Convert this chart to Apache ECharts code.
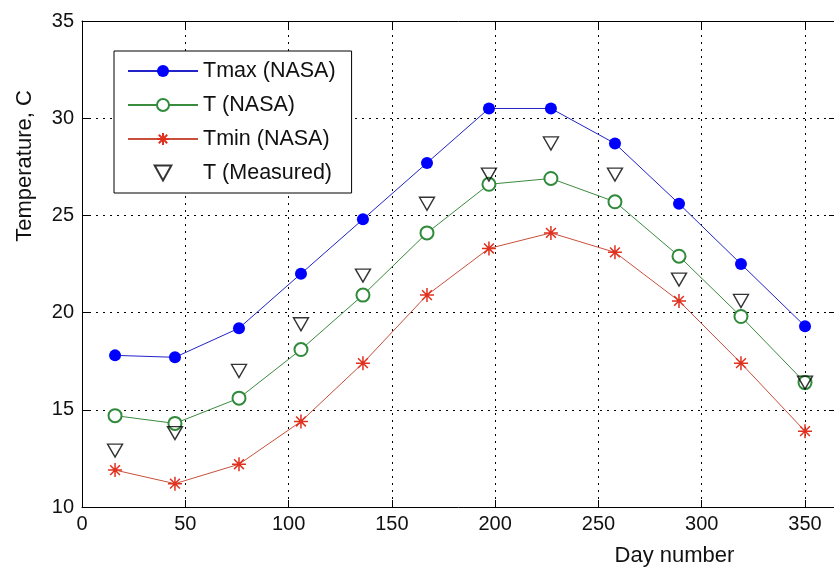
<!DOCTYPE html>
<html>
<head>
<meta charset="utf-8">
<title>Temperature by day number</title>
<script src="https://cdn.jsdelivr.net/npm/echarts@6/dist/echarts.min.js"></script>
<style>
  html, body { margin: 0; padding: 0; background: #fff; }
  #chart { width: 834px; height: 569px; }
</style>
</head>
<body>
<div id="chart"></div>
<script>
// Day of year for each monthly value
const days = [16, 45, 76, 106, 136, 167, 197, 227, 258, 289, 319, 350];
// NASA monthly temperatures, deg C
const tMax = [17.8, 17.7, 19.2, 22.0, 24.8, 27.7, 30.5, 30.5, 28.7, 25.6, 22.5, 19.3];
const tAvg = [14.7, 14.3, 15.6, 18.1, 20.9, 24.1, 26.6, 26.9, 25.7, 22.9, 19.8, 16.4];
const tMin = [11.9, 11.2, 12.2, 14.4, 17.4, 20.9, 23.3, 24.1, 23.1, 20.6, 17.4, 13.9];
// Measured monthly mean temperature, deg C
const tMeas = [12.9, 13.8, 17.0, 19.4, 21.9, 25.6, 27.1, 28.7, 27.1, 21.7, 20.6, 16.4];
// Axis ticks
const xTicks = [0, 50, 100, 150, 200, 250, 300, 350];
const yTicks = [10, 15, 20, 25, 30, 35];

const pairs = (xs, ys) => xs.map((x, i) => [x, ys[i]]);

const FONT = "'Liberation Sans', Arial, Helvetica, sans-serif";
const INK = '#111';
const ASTERISK = 'path://M5,0L5,10M0,5L10,5M1.5,1.5L8.5,8.5M1.5,8.5L8.5,1.5';
const TRI_DOWN = 'path://M0,0L10,0L5,9Z';

const xMin = xTicks[0], xMax = 365, xStep = xTicks[1] - xTicks[0];
const yMin = yTicks[0], yMax = yTicks[yTicks.length - 1], yStep = yTicks[1] - yTicks[0];

const dotted = { show: true, lineStyle: { color: '#000', width: 1, type: [2, 5] } };
const boxLine = { show: true, onZero: false, lineStyle: { color: '#000', width: 1 } };
const inTick = { show: true, inside: true, length: 7, lineStyle: { color: '#000', width: 1 } };

const chart = echarts.init(document.getElementById('chart'), null, { renderer: 'canvas' });

chart.setOption({
  animation: false,
  backgroundColor: '#fff',
  textStyle: { fontFamily: FONT },
  grid: { left: 82, top: 21, width: 754, height: 486, containLabel: false, outerBoundsMode: 'none' },
  legend: {
    orient: 'vertical',
    left: 114,
    top: 51,
    padding: [9, 16, 9, 13],
    itemWidth: 70,
    itemHeight: 15,
    itemGap: 12,
    backgroundColor: '#fff',
    borderColor: '#000',
    borderWidth: 1,
    borderRadius: 0,
    textStyle: { fontSize: 21.5, color: INK, fontFamily: FONT },
    data: ['Tmax (NASA)', 'T (NASA)', 'Tmin (NASA)', 'T (Measured)']
  },
  xAxis: [
    {
      type: 'value', position: 'bottom',
      min: xMin, max: xMax, interval: xStep,
      axisLine: boxLine, axisTick: inTick,
      axisLabel: {
        fontSize: 20, color: INK, margin: 7, fontFamily: FONT,
        formatter: v => (xTicks.indexOf(v) >= 0 ? String(v) : '')
      },
      splitLine: dotted,
      name: 'Day number',
      nameLocation: 'middle',
      nameGap: 38,
      nameTextStyle: { fontSize: 22, color: INK, fontFamily: FONT, padding: [0, 0, 0, 431] }
    },
    {
      type: 'value', position: 'top',
      min: xMin, max: xMax, interval: xStep,
      axisLine: boxLine, axisTick: inTick,
      axisLabel: { show: false }, splitLine: { show: false }
    }
  ],
  yAxis: [
    {
      type: 'value', position: 'left',
      min: yMin, max: yMax, interval: yStep,
      axisLine: boxLine, axisTick: inTick,
      axisLabel: { fontSize: 20, color: INK, margin: 8, fontFamily: FONT },
      splitLine: dotted,
      name: 'Temperature, C',
      nameLocation: 'middle',
      nameGap: 46,
      nameTextStyle: { fontSize: 22, color: INK, fontFamily: FONT, padding: [0, 0, 0, 196] }
    },
    {
      type: 'value', position: 'right',
      min: yMin, max: yMax, interval: yStep,
      axisLine: boxLine, axisTick: inTick,
      axisLabel: { show: false }, splitLine: { show: false }
    }
  ],
  series: [
    {
      name: 'Tmax (NASA)', type: 'line',
      data: pairs(days, tMax),
      symbol: 'circle', symbolSize: 12,
      itemStyle: { color: '#0000ff' },
      lineStyle: { color: '#2222c8', width: 1 },
      z: 3
    },
    {
      name: 'T (NASA)', type: 'line',
      data: pairs(days, tAvg),
      symbol: 'emptyCircle', symbolSize: 13,
      itemStyle: { color: '#2f8a3a', borderWidth: 1.2 },
      lineStyle: { color: '#3b8b3e', width: 1 },
      z: 3
    },
    {
      name: 'Tmin (NASA)', type: 'line',
      data: pairs(days, tMin),
      symbol: ASTERISK, symbolSize: 14,
      itemStyle: { color: '#e0301e', borderColor: '#e0301e', borderWidth: 1.5 },
      lineStyle: { color: '#c9503c', width: 1 },
      z: 3
    },
    {
      name: 'T (Measured)', type: 'scatter',
      data: pairs(days, tMeas),
      symbol: TRI_DOWN, symbolSize: [15, 13],
      itemStyle: { color: 'rgba(255,255,255,0)', borderColor: '#000', borderWidth: 1.4 },
      z: 4
    }
  ]
});
</script>
</body>
</html>
